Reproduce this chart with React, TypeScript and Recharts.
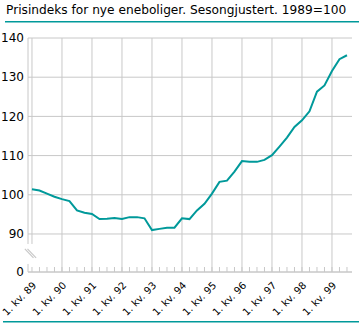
import React from "react";
import { LineChart, Line, XAxis, YAxis, CartesianGrid, ReferenceLine } from "recharts";

// ---- data ----
const years = ["89", "90", "91", "92", "93", "94", "95", "96", "97", "98", "99"];
const quarters = ["1", "2", "3", "4"];
const priceIndex = [
  101.4, 101.1, 100.3, 99.5,
  98.9, 98.4, 96.0, 95.4,
  95.1, 93.8, 93.9, 94.1,
  93.8, 94.3, 94.3, 94.0,
  91.0, 91.3, 91.6, 91.6,
  94.0, 93.8, 96.0, 97.7,
  100.3, 103.3, 103.6, 105.9,
  108.6, 108.4, 108.4, 108.9,
  110.1, 112.3, 114.6, 117.3,
  119.0, 121.3, 126.3, 127.9,
  131.6, 134.6, 135.6,
];
const yTickValues = [90, 100, 110, 120, 130, 140];
const title = "Prisindeks for nye eneboliger. Sesongjustert. 1989=100";

// ---- styling constants ----
const W = 359;
const H = 323;
const TEAL = "#00999a";
const GRID = "#c8c8c8";
const FONT = "'DejaVu Sans', Verdana, sans-serif";

const X_MIN = -0.53;
const X_MAX = 42.67;
const Y_ZERO = 80.3; // position of the "0" label below the axis break
const Y_MAX = 140;
const BREAK_TOP = 87.45;
const BREAK_BOTTOM = 82.35;

const quarterNames: string[] = [];
years.forEach((y) => quarters.forEach((q) => quarterNames.push(`${q}. kv. ${y}`)));

const data = priceIndex.map((v, i) => ({ q: i, name: quarterNames[i], v }));
const qTicks = priceIndex.map((_, i) => i);
const yearTicks = qTicks.filter((i) => i % 4 === 0 && i > 0);

const XTick = (props: any) => {
  const { x, y, payload } = props;
  const i = payload.value as number;
  const label = i % 4 === 0 ? quarterNames[i] : "";
  const ax = x + 5;
  const ay = y + 14;
  return (
    <g>
      <line x1={x} x2={x} y1={y} y2={y - 5} stroke={GRID} strokeWidth={1} />
      {label && (
        <text
          x={ax}
          y={ay}
          transform={`rotate(-45, ${ax}, ${ay})`}
          textAnchor="end"
          fontSize={10}
          fontFamily={FONT}
          fill="#000"
        >
          {label}
        </text>
      )}
    </g>
  );
};

export default function App() {
  return (
    <div style={{ position: "relative", width: W, height: H, background: "#fff" }}>
      <style>{"body{margin:0}"}</style>
      <div style={{ position: "absolute", left: 0, top: 0 }}>
        <LineChart width={W} height={H} data={data} margin={{ top: 38, right: 7, bottom: 0, left: 0 }}>
          <CartesianGrid vertical={false} stroke={GRID} strokeWidth={1} />
          <XAxis
            dataKey="q"
            type="number"
            domain={[X_MIN, X_MAX]}
            ticks={qTicks}
            interval={0}
            tickLine={false}
            tickSize={0}
            tickMargin={0}
            axisLine={{ stroke: GRID }}
            height={51}
            tick={<XTick />}
            allowDataOverflow
          />
          <YAxis
            type="number"
            domain={[Y_ZERO, Y_MAX]}
            ticks={[Y_ZERO, ...yTickValues]}
            interval={0}
            width={28}
            axisLine={false}
            tickLine={false}
            tickSize={0}
            tickMargin={4}
            tickFormatter={(v: number) => (v === Y_ZERO ? "0" : String(v))}
            tick={{ fontSize: 12, fontFamily: FONT, fill: "#000" }}
            allowDataOverflow
          />
          {yearTicks.map((i) => (
            <ReferenceLine key={i} x={i} stroke={GRID} strokeWidth={1} />
          ))}
          <ReferenceLine
            segment={[{ x: 0, y: BREAK_TOP }, { x: 0, y: Y_MAX }]}
            stroke={GRID}
            strokeWidth={1}
          />
          <ReferenceLine
            segment={[{ x: X_MIN, y: BREAK_TOP }, { x: X_MIN, y: Y_MAX }]}
            stroke={GRID}
            strokeWidth={1}
          />
          <ReferenceLine
            segment={[{ x: X_MIN, y: Y_ZERO }, { x: X_MIN, y: BREAK_BOTTOM }]}
            stroke={GRID}
            strokeWidth={1}
          />
          <ReferenceLine
            segment={[{ x: -0.95, y: 86.2 }, { x: 0.2, y: 83.9 }]}
            stroke={GRID}
            strokeWidth={1.2}
            ifOverflow="visible"
          />
          <ReferenceLine
            segment={[{ x: -0.6, y: 86.2 }, { x: 0.55, y: 83.9 }]}
            stroke={GRID}
            strokeWidth={1.2}
            ifOverflow="visible"
          />
          <Line
            type="linear"
            dataKey="v"
            stroke={TEAL}
            strokeWidth={2}
            dot={false}
            isAnimationActive={false}
          />
        </LineChart>
      </div>
      <svg width={W} height={H} style={{ position: "absolute", left: 0, top: 0, pointerEvents: "none" }}>
        <text x={6} y={14} fontSize={12.2} fontFamily={FONT} fill="#000">
          {title}
        </text>
        <rect x={5} y={21} width={W - 5} height={1.5} fill={TEAL} />
        <rect x={3} y={321} width={W - 3} height={1.5} fill={TEAL} />
      </svg>
    </div>
  );
}
